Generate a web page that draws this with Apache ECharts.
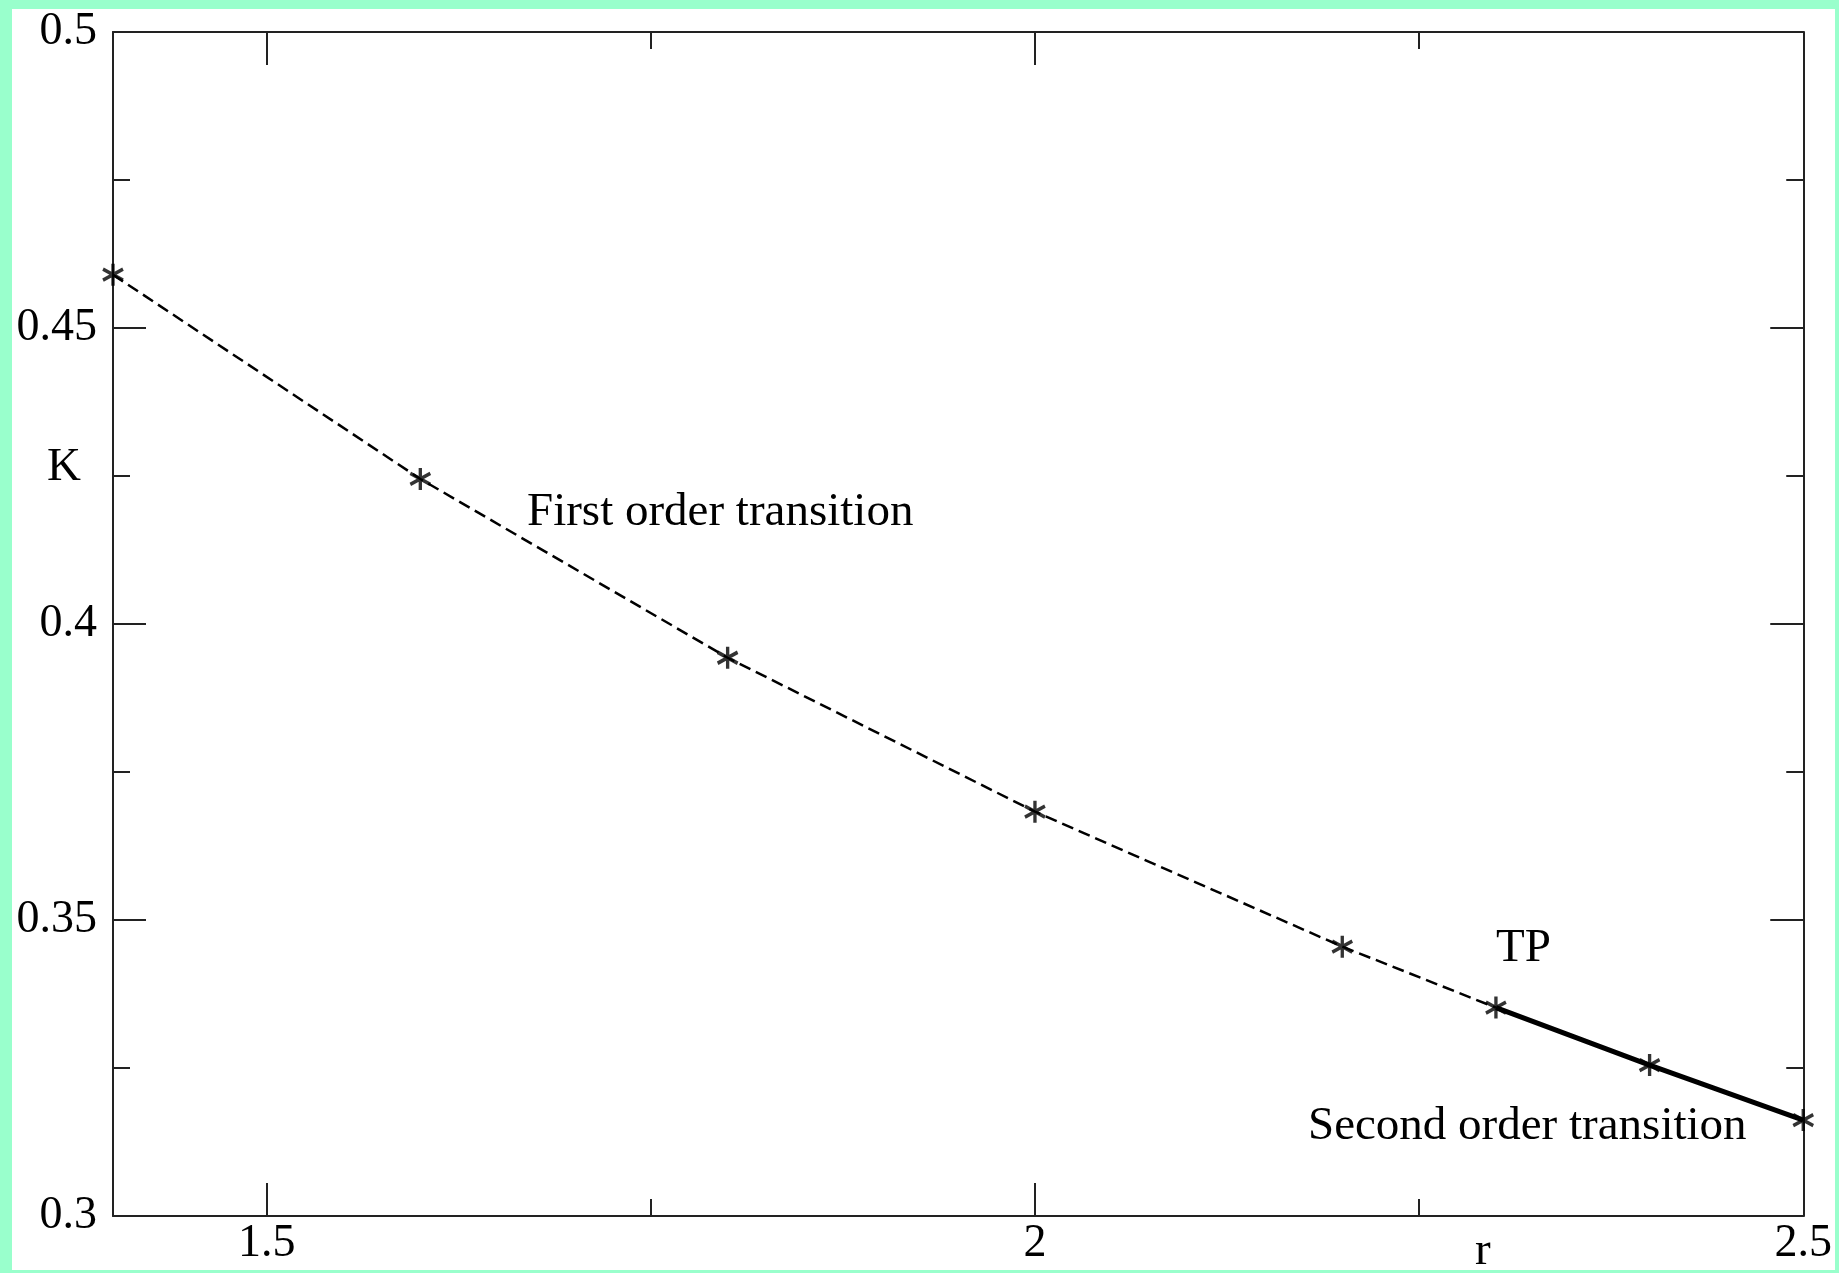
<!DOCTYPE html>
<html>
<head>
<meta charset="utf-8">
<script src="https://cdn.jsdelivr.net/npm/echarts@6/dist/echarts.min.js"></script>
<style>
html,body{margin:0;padding:0;background:#99ffcc;width:1839px;height:1273px;overflow:hidden;}
#chart{position:absolute;left:12px;top:9px;width:1823px;height:1261px;background:#fff;}
</style>
</head>
<body>
<div id="chart"></div>
<script>
// r values and K values
var rVals = [1.4, 1.6, 1.8, 2.0, 2.2, 2.3, 2.4, 2.5];
var kVals = [0.459, 0.4245, 0.3943, 0.3683, 0.3455, 0.3352, 0.3255, 0.3162];
var tpIndex = 5; // tricritical point, dashed before, solid after
var xMajor = [1.5, 2, 2.5];
var xMinor = [1.75, 2.25];

var FONT = 'Liberation Serif';
var AX = '#222';

function pts(from, to){
    var out = [];
    for(var i=from; i<=to; i++){
        out.push([rVals[i], kVals[i]]);
    }
    return out;
}

function xAx(pos, ticks, len, showLine, showLabel){
    return {
        type: 'value', min: 1.4, max: 2.5, position: pos,
        axisLine: {show: showLine, onZero: false, lineStyle: {color: AX, width: 2}},
        axisTick: {show: true, inside: true, length: len, customValues: ticks, lineStyle: {color: AX, width: 2}},
        axisLabel: {show: showLabel, customValues: ticks, margin: 5, fontFamily: FONT, fontSize: 46, color: '#000'},
        splitLine: {show: false}
    };
}

function yAx(pos, showLabel){
    return {
        type: 'value', min: 0.3, max: 0.5, interval: 0.05, position: pos,
        axisLine: {show: true, onZero: false, lineStyle: {color: AX, width: 2}},
        axisTick: {show: true, inside: true, length: 33, lineStyle: {color: AX, width: 2}},
        minorTick: {show: true, splitNumber: 2, length: 17, lineStyle: {color: AX, width: 2}},
        axisLabel: {show: showLabel, margin: 16, fontFamily: FONT, fontSize: 46, color: '#000'},
        splitLine: {show: false},
        minorSplitLine: {show: false}
    };
}

var star = 'path://M0,-10L0,10M-8.66,-5L8.66,5M-8.66,5L8.66,-5';

function label(s, x, y){
    return {type: 'text', left: x, top: y, style: {text: s, fontFamily: FONT, fontSize: 47, fill: '#000'}};
}

var chart = echarts.init(document.getElementById('chart'));
var option = {
    animation: false,
    backgroundColor: '#fff',
    grid: {left: 101, top: 22, right: 29, bottom: 54, containLabel: false},
    xAxis: [
        xAx('bottom', xMajor, 33, true, true),
        xAx('bottom', xMinor, 17, false, false),
        xAx('top', xMajor, 33, true, false),
        xAx('top', xMinor, 17, false, false)
    ],
    yAxis: [yAx('left', true), yAx('right', false)],
    series: [
        {
            name: 'First order', type: 'line', data: pts(0, tpIndex),
            symbol: 'none', lineStyle: {color: '#000', width: 2.5, type: [12, 6]}
        },
        {
            name: 'Second order', type: 'line', data: pts(tpIndex, rVals.length-1),
            symbol: 'none', lineStyle: {color: '#000', width: 5}
        },
        {
            name: 'points', type: 'scatter', data: pts(0, rVals.length-1), clip: false,
            symbol: star, symbolSize: [20, 22],
            itemStyle: {color: 'none', borderColor: '#000', borderWidth: 3.5}
        }
    ],
    graphic: [
        label('K', 35, 435),
        label('r', 1463, 1219),
        label('First order transition', 515, 480),
        label('TP', 1484, 916),
        label('Second order transition', 1296, 1094)
    ]
};
chart.setOption(option);
</script>
</body>
</html>
